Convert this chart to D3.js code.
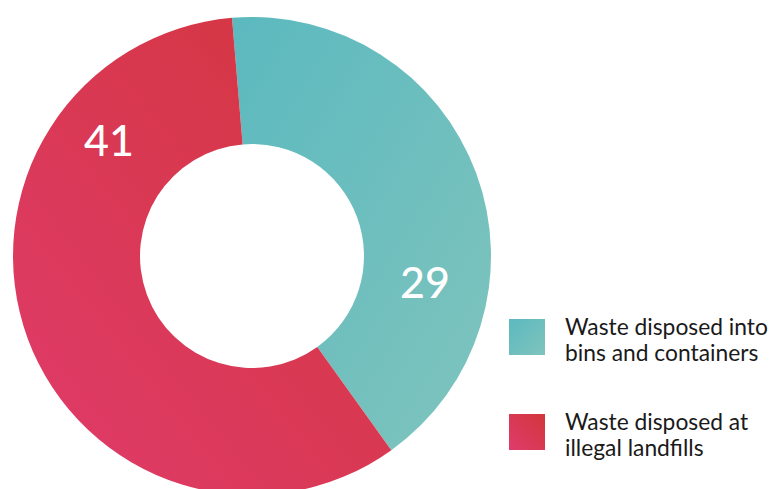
<!DOCTYPE html>
<html>
<head>
<meta charset="utf-8">
<script src="https://cdn.jsdelivr.net/npm/d3@7"></script>
<style>
  html, body { margin: 0; padding: 0; background: #fff; }
  svg { display: block; }
</style>
</head>
<body>
<svg id="chart" width="770" height="489"></svg>
<script>
// Waste disposal shares
const categories = ["Waste disposed into bins and containers", "Waste disposed at illegal landfills"];
const legendLines = [["Waste disposed into", "bins and containers"], ["Waste disposed at", "illegal landfills"]];
const values = [29, 41];

const width = 770, height = 489;
const cx = 252, cy = 256;
const outerR = 239, innerR = 112;
const rot = -4.8 * Math.PI / 180;

// angular placement (degrees from 12 o'clock) and radius of each value label
const labelPos = [{ angle: 98.7, r: 175 }, { angle: -51, r: 184 }];

const svg = d3.select("#chart");
const defs = svg.append("defs");

function grad(id, x1, y1, x2, y2, c1, c2) {
  const g = defs.append("linearGradient").attr("id", id)
    .attr("x1", x1).attr("y1", y1).attr("x2", x2).attr("y2", y2);
  g.append("stop").attr("offset", "0%").attr("stop-color", c1);
  g.append("stop").attr("offset", "100%").attr("stop-color", c2);
}
// slice gradients
grad("gTeal", "0%", "0%", "100%", "100%", "#5bb9bf", "#80c4bd");
grad("gRed", "100%", "0%", "0%", "100%", "#d3363b", "#e03b6c");
// legend swatch gradients
grad("lTeal", "0%", "0%", "100%", "100%", "#5bb9bf", "#80c4bd");
grad("lRed", "100%", "0%", "0%", "100%", "#d3363b", "#e03b6c");

const fills = ["url(#gTeal)", "url(#gRed)"];
const swatches = ["url(#lTeal)", "url(#lRed)"];

const pie = d3.pie().sort(null).value(d => d)
  .startAngle(rot).endAngle(rot + 2 * Math.PI);
const arc = d3.arc().innerRadius(innerR).outerRadius(outerR);
const arcs = pie(values);

const g = svg.append("g").attr("transform", `translate(${cx},${cy})`);

g.selectAll("path.slice").data(arcs).join("path")
  .attr("class", "slice")
  .attr("d", arc)
  .attr("fill", (d, i) => fills[i]);

g.selectAll("text.val").data(arcs).join("text")
  .attr("class", "val")
  .attr("x", (d, i) => labelPos[i].r * Math.sin(labelPos[i].angle * Math.PI / 180))
  .attr("y", (d, i) => -labelPos[i].r * Math.cos(labelPos[i].angle * Math.PI / 180))
  .attr("dy", "0.36em")
  .attr("text-anchor", "middle")
  .attr("fill", "#fff")
  .attr("font-family", "Lato, 'Open Sans', sans-serif")
  .attr("font-weight", 500)
  .attr("font-size", 43)
  .text(d => d.data);

// legend
const legend = svg.append("g").attr("transform", "translate(509,319)");
const item = legend.selectAll("g.item").data(categories).join("g")
  .attr("class", "item")
  .attr("transform", (d, i) => `translate(0,${i * 95})`);
item.append("rect")
  .attr("width", 36).attr("height", 36)
  .attr("fill", (d, i) => swatches[i]);
item.append("text")
  .attr("x", 56).attr("y", 16)
  .attr("font-family", "Lato, 'Open Sans', sans-serif")
  .attr("font-size", 22.8)
  .attr("fill", "#1a1a1a")
  .selectAll("tspan").data((d, i) => legendLines[i]).join("tspan")
  .attr("x", 56)
  .attr("dy", (d, j) => j === 0 ? 0 : 26)
  .text(d => d);
</script>
</body>
</html>
